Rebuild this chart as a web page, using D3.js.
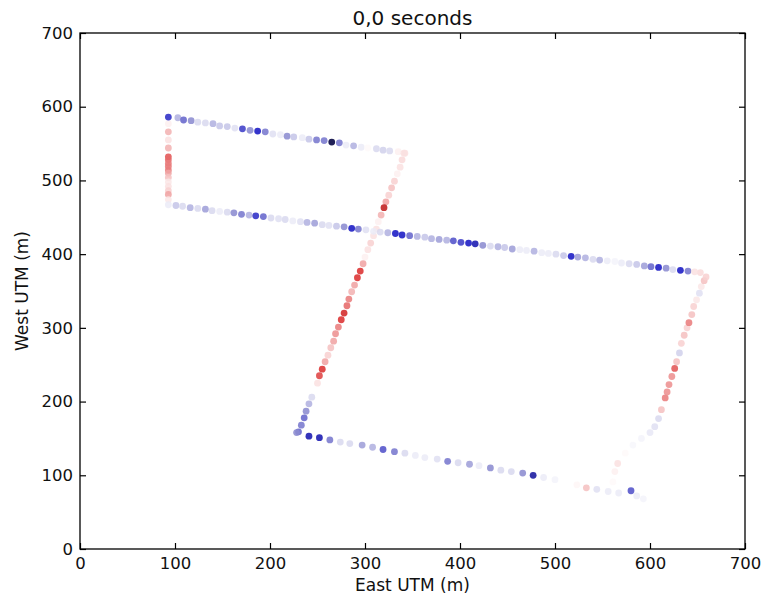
<!DOCTYPE html>
<html><head><meta charset="utf-8">
<script src="https://cdn.jsdelivr.net/npm/d3@7"></script>
<style>body{margin:0;background:#fff}svg{display:block}</style>
</head><body><svg id="c" width="763" height="598"></svg>
<script>
const title = "0,0 seconds";
const xLabel = "East UTM (m)";
const yLabel = "West UTM (m)";
const xTicks = [0,100,200,300,400,500,600,700];
const yTicks = [0,100,200,300,400,500,600,700];

// [east, west, value]
const topLeg = [[93,586,-0.55],[103,585,-0.2],[109,582,-0.4],[117,581,-0.3],[124,579,-0.1],[132,578,-0.1],[140,577,-0.2],[147,574,-0.15],[155,573,-0.15],[163,571,-0.08],[171,570,-0.5],[179,568,-0.3],[187,567,-0.6],[195,566,-0.35],[203,563,-0.08],[211,562,-0.05],[218,560,-0.3],[225,559,-0.15],[234,558,-0.05],[241,556,-0.15],[249,555,-0.35],[257,554,-0.35],[265,552,-0.95],[273,551,-0.35],[280,548,-0.05],[288,547,-0.2],[296,545,-0.05],[303,544,0.02],[312,543,-0.1],[319,541,-0.12],[326,540,-0.1],[335,539,0.05],[341,537,0.1]];

const diagLeg = [[342,537,0.1],[339,528,0.12],[337,518,0.1],[334,509,0.05],[331,499,0.15],[328,490,0.2],[325,480,0.15],[322,471,0.3],[320,463,0.75],[317,453,0.25],[314,444,0.05],[312,434,0.1],[309,425,0.1],[306,415,0.15],[303,406,0.1],[300,396,0.05],[298,387,0.3],[295,377,0.6],[292,368,0.6],[289,358,0.3],[286,349,0.25],[283,339,0.4],[281,330,0.45],[278,320,0.65],[275,311,0.6],[272,301,0.4],[269,292,0.35],[267,282,0.3],[264,273,0.2],[261,263,0.15],[258,254,0.3],[255,244,0.6],[252,235,0.55],[250,225,0.1],[247,216,0.0],[244,206,-0.1],[241,197,-0.2],[238,187,-0.3],[236,178,-0.4],[233,168,-0.35],[230,159,-0.4]];

const midEast = [93,101,108,116,124,132,139,147,155,162,170,178,185,193,201,209,216,224,232,239,247,255,262,270,278,286,293,301,309,316,324,332,339,347,355,363,370,378,386,393,401,409,416,424,432,440,447,455,463,470,478,486,493,501,509,517,524,532,540,547,555,563,570,578,586,594,601,609,617,624,632,640,647];
const midWest = [467,466,465,463,462,461,459,458,457,456,454,453,452,451,449,448,447,445,444,443,442,440,439,438,437,435,434,433,431,430,429,428,426,425,424,423,421,420,419,418,416,415,414,412,411,410,409,407,406,405,404,402,401,400,398,397,396,395,393,392,391,390,388,387,386,384,383,382,381,379,378,377,376];
const midVal = [-0.05,-0.15,-0.1,-0.2,-0.1,-0.25,-0.1,-0.05,-0.1,-0.3,-0.35,-0.2,-0.55,-0.4,-0.1,-0.08,-0.1,-0.05,-0.08,-0.2,-0.25,-0.1,-0.08,-0.15,-0.3,-0.6,-0.35,-0.08,-0.05,-0.1,-0.2,-0.6,-0.6,-0.4,-0.2,-0.15,-0.2,-0.25,-0.2,-0.45,-0.5,-0.6,-0.65,-0.3,-0.1,-0.2,-0.15,-0.25,-0.05,-0.05,-0.2,-0.05,-0.05,-0.1,-0.15,-0.6,-0.25,-0.2,-0.1,-0.2,-0.05,-0.03,-0.05,-0.1,-0.15,-0.25,-0.4,-0.6,-0.3,-0.1,-0.6,-0.35,0.1];

const leftLeg = [[93,577,0.05],[93,566,0.25],[93,555,0.1],[93,544,0.25],[93,532,0.5],[93,528,0.45],[93,523,0.4],[93,519,0.4],[93,514,0.4],[93,510,0.3],[93,504,0.2],[93,498,0.08],[93,492,0.1],[93,486,0.15],[93,481,0.3],[93,474,0.08]];

const bottomLeg = [[228,158,-0.3],[241,153,-0.65],[252,151,-0.65],[263,148,-0.35],[274,145,-0.1],[284,143,-0.1],[297,141,-0.25],[308,138,-0.2],[319,135,-0.45],[331,132,-0.35],[342,130,-0.1],[353,127,-0.05],[363,124,-0.05],[376,122,-0.08],[387,119,-0.35],[398,117,-0.1],[410,115,-0.25],[420,113,-0.05],[432,110,-0.3],[443,107,-0.1],[454,105,-0.1],[466,103,-0.3],[477,100,-0.7],[488,97,-0.05],[500,94,-0.03],[512,91,0],[523,87,0.03],[533,83,0.2],[544,81,-0.08],[556,78,-0.05],[567,76,-0.05],[580,79,-0.45],[586,72,-0.05],[593,68,-0.03]];

const rightLeg = [[561,91,0.02],[563,105,0.05],[566,116,0.1],[574,130,0.02],[582,141,-0.02],[591,150,-0.03],[600,158,-0.06],[605,166,-0.08],[609,177,-0.1],[612,189,0.2],[616,205,0.4],[618,213,0.35],[620,223,0.35],[623,234,0.35],[626,245,0.5],[628,254,0.2],[631,266,-0.12],[633,279,0.15],[636,290,0.2],[639,300,0.15],[641,307,0.4],[644,318,0.2],[646,329,0.15],[649,338,0.08],[652,347,-0.08],[654,356,0.08],[657,364,0.2],[659,369,0.15],[653,375,0.12]];

const midLeg = midEast.map((e,i)=>[e, midWest[i], midVal[i]]);
const points = [].concat(leftLeg, topLeg, diagLeg, bottomLeg, rightLeg, midLeg);

const L=80, R=745, T=33, B=549;
const x = d3.scaleLinear().domain([0,700]).range([L,R]);
const y = d3.scaleLinear().domain([0,700]).range([B,T]);
const color = d3.scaleLinear().domain([-1,-0.6,-0.3,0,0.3,0.6,1])
  .range(["#00002a","#1a1ac4","#8c8cd0","#ffffff","#f0a4a4","#dc3030","#900000"]).clamp(true);

const svg = d3.select("#c");
const defs = svg.append("defs");
defs.append("filter").attr("id","soft").attr("x","-50%").attr("y","-50%").attr("width","200%").attr("height","200%")
  .append("feGaussianBlur").attr("stdDeviation",0.6);
const font = "DejaVu Sans, Verdana, sans-serif";

svg.append("g").attr("filter","url(#soft)").selectAll("circle").data(points).join("circle")
  .attr("cx", d=>x(d[0])).attr("cy", d=>y(d[1])).attr("r", 3.4)
  .attr("fill", d=>color(d[2])).attr("fill-opacity", 0.88);

const tick = 6;
const gx = svg.append("g").attr("transform",`translate(0,${B})`)
  .call(d3.axisBottom(x).tickValues(xTicks).tickSizeInner(-tick).tickSizeOuter(0).tickPadding(8).tickFormat(d3.format("d")));
const gxt = svg.append("g").attr("transform",`translate(0,${T})`)
  .call(d3.axisTop(x).tickValues(xTicks).tickSizeInner(-tick).tickSizeOuter(0).tickFormat(""));
const gy = svg.append("g").attr("transform",`translate(${L},0)`)
  .call(d3.axisLeft(y).tickValues(yTicks).tickSizeInner(-tick).tickSizeOuter(0).tickPadding(7).tickFormat(d3.format("d")));
const gyr = svg.append("g").attr("transform",`translate(${R},0)`)
  .call(d3.axisRight(y).tickValues(yTicks).tickSizeInner(-tick).tickSizeOuter(0).tickFormat(""));
[gx,gxt,gy,gyr].forEach(g=>{
  g.select(".domain").remove();
  g.selectAll("line").attr("stroke","#000").attr("stroke-width",1.2);
  g.selectAll("text").attr("font-family",font).attr("font-size","16.5px").attr("fill","#111");
});

svg.append("rect").attr("x",L).attr("y",T).attr("width",R-L).attr("height",B-T)
  .attr("fill","none").attr("stroke","#000").attr("stroke-width",1.3);

svg.append("text").attr("x",(L+R)/2).attr("y",25).attr("text-anchor","middle")
  .attr("font-family",font).attr("font-size","20px").attr("fill","#111").text(title);
svg.append("text").attr("x",(L+R)/2).attr("y",591).attr("text-anchor","middle")
  .attr("font-family",font).attr("font-size","17px").attr("fill","#111").text(xLabel);
svg.append("text").attr("transform",`translate(28,${(T+B)/2}) rotate(-90)`).attr("text-anchor","middle")
  .attr("font-family",font).attr("font-size","17px").attr("fill","#111").text(yLabel);
</script></body></html>
